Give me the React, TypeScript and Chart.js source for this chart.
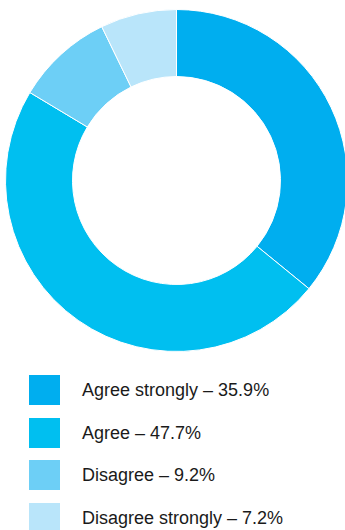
import React, { useEffect, useRef } from "react";
import { Chart, registerables } from "chart.js";

Chart.register(...registerables);

const categories = ["Agree strongly", "Agree", "Disagree", "Disagree strongly"];
const values = [35.9, 47.7, 9.2, 7.2];
const colors = ["#00AEEF", "#00BFF0", "#6DCFF6", "#B9E5FA"];

export default function App() {
  const ref = useRef<HTMLCanvasElement | null>(null);

  useEffect(() => {
    if (!ref.current) return;
    const chart = new Chart(ref.current, {
      type: "doughnut",
      data: {
        labels: categories,
        datasets: [
          {
            data: values,
            backgroundColor: colors,
            borderColor: "#ffffff",
            borderWidth: 1,
          },
        ],
      },
      options: {
        responsive: false,
        animation: false,
        cutout: 104,
        layout: { padding: 0 },
        plugins: {
          legend: { display: false },
          tooltip: { enabled: false },
        },
      },
    });
    return () => chart.destroy();
  }, []);

  return (
    <div
      style={{
        position: "absolute",
        left: 0,
        top: 0,
        width: 345,
        height: 530,
        overflow: "hidden",
        background: "#ffffff",
        fontFamily: "'Liberation Sans', Arial, sans-serif",
      }}
    >
      <canvas
        ref={ref}
        width={343}
        height={343}
        style={{ position: "absolute", left: 5, top: 9, width: 343, height: 343 }}
      />
      {categories.map((c, i) => (
        <div
          key={c}
          style={{
            position: "absolute",
            left: 29,
            top: 375 + i * 42.5,
            height: 30,
            display: "flex",
            alignItems: "center",
            whiteSpace: "nowrap",
          }}
        >
          <div style={{ width: 31, height: 30, background: colors[i] }} />
          <div
            style={{
              marginLeft: 22,
              fontSize: 18,
              lineHeight: "30px",
              color: "#1a1a1a",
            }}
          >
            {c} – {values[i].toFixed(1)}%
          </div>
        </div>
      ))}
    </div>
  );
}
